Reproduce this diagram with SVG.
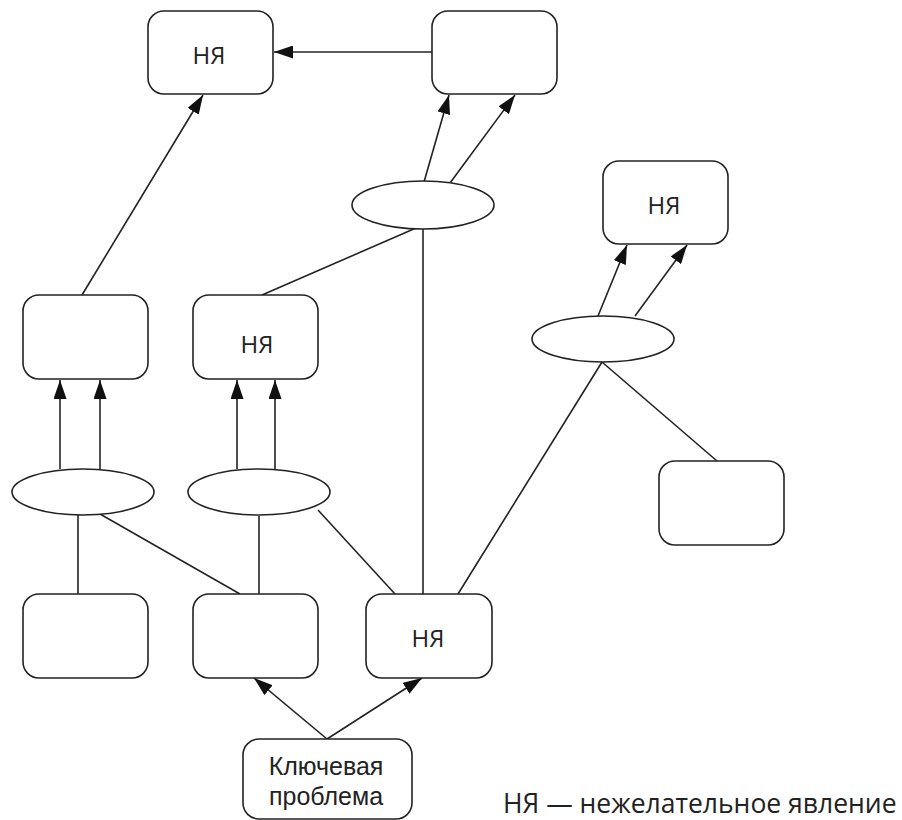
<svg xmlns="http://www.w3.org/2000/svg" width="902" height="820" viewBox="0 0 902 820">
  <style>
    .box { fill: #fff; stroke: #222; stroke-width: 1.6; }
    .ell { fill: #fff; stroke: #222; stroke-width: 1.6; }
    .ln { fill: none; stroke: #222; stroke-width: 1.6; }
    .arr { fill: none; stroke: #222; stroke-width: 1.6; marker-end: url(#head); }
    text { font-family: "Open Sans", "Noto Sans", "DejaVu Sans", sans-serif; fill: #222; text-anchor: middle; }
    .lbl { font-size: 24px; }
    .key { font-family: "Liberation Sans", "DejaVu Sans", sans-serif; font-size: 25px; }
    .legend { font-size: 26.5px; text-anchor: start; }
  </style>
  <defs>
    <marker id="head" viewBox="0 0 19 13" refX="19" refY="6.5" markerWidth="19" markerHeight="13" markerUnits="userSpaceOnUse" orient="auto">
      <path d="M0,0 L19,6.5 L0,13 Z" fill="#111"/>
    </marker>
  </defs>
  <rect width="902" height="820" fill="#fff"/>

  <!-- connectors -->
  <g id="connectors">
    <line class="arr" x1="432" y1="52" x2="274" y2="52"/>
    <line class="arr" x1="82" y1="295" x2="203" y2="95"/>
    <line class="arr" x1="424" y1="182" x2="449" y2="95"/>
    <line class="arr" x1="450" y1="183" x2="515" y2="95"/>
    <line class="arr" x1="598" y1="316" x2="627" y2="245"/>
    <line class="arr" x1="635" y1="316" x2="687" y2="245"/>
    <line class="arr" x1="60" y1="469" x2="60" y2="380"/>
    <line class="arr" x1="100" y1="469" x2="100" y2="380"/>
    <line class="arr" x1="237" y1="469" x2="237" y2="380"/>
    <line class="arr" x1="275" y1="469" x2="275" y2="380"/>
    <line class="arr" x1="327" y1="739" x2="254" y2="678"/>
    <line class="arr" x1="327" y1="739" x2="422" y2="678"/>
    <line class="ln" x1="262" y1="295" x2="416" y2="228"/>
    <line class="ln" x1="423" y1="229" x2="423" y2="594"/>
    <line class="ln" x1="78" y1="515" x2="78" y2="594"/>
    <line class="ln" x1="100" y1="514" x2="240" y2="594"/>
    <line class="ln" x1="259" y1="516" x2="259" y2="594"/>
    <line class="ln" x1="318" y1="510" x2="395" y2="594"/>
    <line class="ln" x1="602" y1="362" x2="458" y2="594"/>
    <line class="ln" x1="602" y1="362" x2="717" y2="461"/>
  </g>

  <!-- nodes -->
  <g id="ue-top-left">
    <rect class="box" x="148" y="11" width="125" height="83" rx="16"/>
    <text class="lbl" x="209" y="64">НЯ</text>
  </g>
  <g id="box-top-right">
    <rect class="box" x="432" y="11" width="125" height="83" rx="16"/>
  </g>
  <g id="ell-top">
    <ellipse class="ell" cx="423" cy="205" rx="71" ry="24"/>
  </g>
  <g id="ue-right">
    <rect class="box" x="603" y="161" width="125" height="83" rx="16"/>
    <text class="lbl" x="664" y="214">НЯ</text>
  </g>
  <g id="ell-right">
    <ellipse class="ell" cx="603" cy="339" rx="71" ry="23"/>
  </g>
  <g id="box-mid-left">
    <rect class="box" x="23" y="295" width="125" height="84" rx="16"/>
  </g>
  <g id="ue-mid">
    <rect class="box" x="193" y="295" width="125" height="84" rx="16"/>
    <text class="lbl" x="257" y="353">НЯ</text>
  </g>
  <g id="ell-left">
    <ellipse class="ell" cx="83" cy="492" rx="71" ry="23"/>
  </g>
  <g id="ell-mid">
    <ellipse class="ell" cx="259" cy="492" rx="71" ry="23"/>
  </g>
  <g id="box-right-low">
    <rect class="box" x="659" y="461" width="125" height="84" rx="16"/>
  </g>
  <g id="box-bottom-left">
    <rect class="box" x="23" y="594" width="125" height="84" rx="16"/>
  </g>
  <g id="box-bottom-mid">
    <rect class="box" x="193" y="594" width="125" height="84" rx="16"/>
  </g>
  <g id="ue-bottom">
    <rect class="box" x="366" y="594" width="126" height="84" rx="16"/>
    <text class="lbl" x="428" y="647">НЯ</text>
  </g>
  <g id="key-problem">
    <rect class="box" x="243" y="739" width="169" height="80" rx="16"/>
    <text class="key" x="326" y="775">Ключевая</text>
    <text class="key" x="326" y="805">проблема</text>
  </g>

  <text class="legend" x="503" y="813">НЯ — нежелательное явление</text>
</svg>
